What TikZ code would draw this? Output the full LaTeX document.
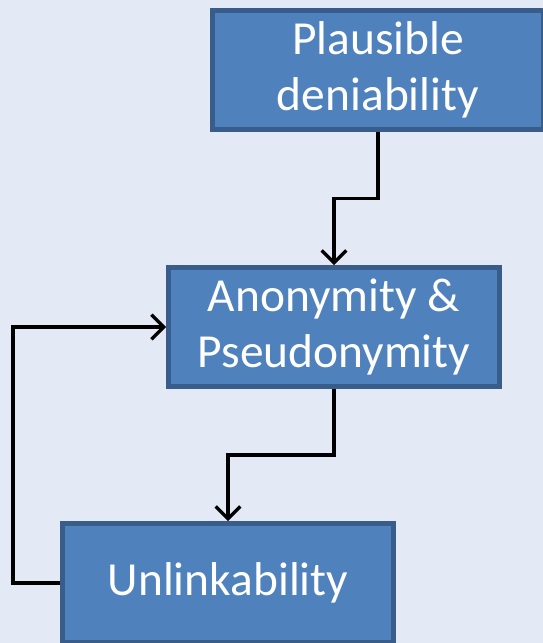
\documentclass[tikz,border=0pt]{standalone}
\usepackage{fontspec}
\setmainfont{Carlito}
\usetikzlibrary{arrows.meta,calc}
\definecolor{bgblue}{RGB}{227,234,246}
\definecolor{boxfill}{RGB}{79,129,189}
\definecolor{boxline}{RGB}{56,93,138}
\begin{document}
\begin{tikzpicture}[x=0.02cm, y=-0.02cm,
    box/.style={rectangle, draw=boxline, fill=boxfill, line width=2.8pt,
        minimum width=6.62cm, minimum height=2.38cm, align=center,
        text=white, font=\fontsize{27}{31.5}\selectfont},
    link/.style={line width=1.9pt, -{Straight Barb[length=7pt, width=14pt, line width=1.9pt]}}]
        % background
        \fill[bgblue] (0,0) rectangle (543,643);
        \useasboundingbox (0,0) rectangle (543,643);

        % boxes
        \node[box] (PD) at (378,70) {Plausible\\deniability};
        \node[box] (AP) at (334,327) {Anonymity \&\\Pseudonymity};
        \node[box] (UL) at (228,583) {Unlinkability};

        % connectors
        \draw[link] (PD.south) |- ($(PD.south)!0.5!(AP.north)$) -| (AP.north);
        \draw[link] (AP.south) |- ($(AP.south)!0.5!(UL.north)$) -| (UL.north);
        \draw[link] (UL.west) -- ++(-47,0) |- (AP.west);
\end{tikzpicture}
\end{document}
